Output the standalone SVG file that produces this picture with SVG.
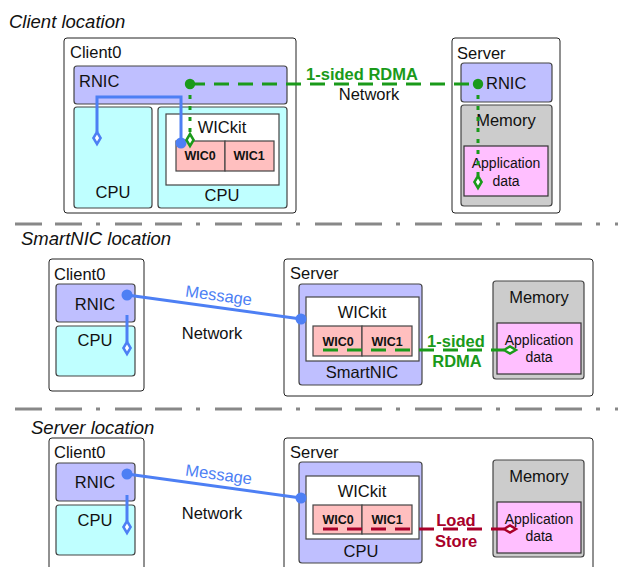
<svg xmlns="http://www.w3.org/2000/svg" width="618" height="567" viewBox="0 0 618 567">
<style>
text{font-family:"Liberation Sans",Arial,Helvetica,sans-serif;font-size:16.5px;fill:#111}
.title{font-size:18.5px;font-style:italic}
.c{text-anchor:middle}
.wic{font-size:12.5px;font-weight:bold;text-anchor:middle}
.app{font-size:14px;text-anchor:middle}
.outer{fill:#fff;stroke:#222;stroke-width:1}
.rnic{fill:#bfbfff;stroke:#444;stroke-width:1.2}
.cpu{fill:#bfffff;stroke:#444;stroke-width:1.2}
.kit{fill:#fff;stroke:#444;stroke-width:1.2}
.wicbox{fill:#ffbfbf;stroke:#444;stroke-width:1.2}
.mem{fill:#cccccc;stroke:#444;stroke-width:1.2}
.appbox{fill:#ffbfff;stroke:#333;stroke-width:1.2}
.sep{stroke:#888;stroke-width:3;stroke-dasharray:27 13 27 14 4 15;fill:none}
.blue{stroke:#4d7ff4;stroke-width:3;fill:none}
.green{stroke:#1a9a1a;stroke-width:3;fill:none;stroke-dasharray:15 9}
.gdot{stroke:#1a9a1a;stroke-width:3;fill:none;stroke-dasharray:4 7}
.red{stroke:#a8002a;stroke-width:3;fill:none;stroke-dasharray:15 9}
.gt{fill:#1a9a1a;font-weight:bold;text-anchor:middle}
.rt{fill:#a8002a;font-weight:bold;text-anchor:middle}
.bt{fill:#4d7ff4;text-anchor:middle}
</style>
<defs>
<marker id="dotB" markerUnits="userSpaceOnUse" viewBox="-6 -6 12 12" markerWidth="12" markerHeight="12" refX="0" refY="0"><circle r="5.5" fill="#4d7ff4"/></marker>
<marker id="dotG" markerUnits="userSpaceOnUse" viewBox="-6 -6 12 12" markerWidth="12" markerHeight="12" refX="0" refY="0"><circle r="5.2" fill="#1a9a1a"/></marker>
<marker id="diaB" markerUnits="userSpaceOnUse" viewBox="-2 -6 16 12" markerWidth="16" markerHeight="12" refX="0" refY="0" orient="auto" overflow="visible"><path d="M0,0 L6,-3.6 L12,0 L6,3.6 Z" fill="#fff" stroke="#4d7ff4" stroke-width="2.5"/></marker>
<marker id="diaG" markerUnits="userSpaceOnUse" viewBox="-2 -6 16 12" markerWidth="16" markerHeight="12" refX="0" refY="0" orient="auto" overflow="visible"><path d="M0,0 L6,-3.6 L12,0 L6,3.6 Z" fill="#fff" stroke="#1a9a1a" stroke-width="2.5"/></marker>
<marker id="diaR" markerUnits="userSpaceOnUse" viewBox="-2 -6 16 12" markerWidth="16" markerHeight="12" refX="0" refY="0" orient="auto" overflow="visible"><path d="M0,0 L6,-3.6 L12,0 L6,3.6 Z" fill="#fff" stroke="#a8002a" stroke-width="2.5"/></marker>
</defs>

<g id="titles">
<text class="title" x="9" y="28">Client location</text>
<text class="title" x="21" y="245">SmartNIC location</text>
<text class="title" x="31" y="434">Server location</text>
</g>
<g id="separators">
<line class="sep" x1="15" y1="224" x2="618" y2="224"/>
<line class="sep" x1="15" y1="409" x2="618" y2="409"/>
</g>

<!-- Panel 1 -->
<g id="p1-client0">
<rect class="outer" x="64" y="38" width="232" height="175" rx="3"/>
<text x="70" y="58">Client0</text>
</g>
<g id="p1-client-rnic">
<rect class="rnic" x="74" y="66" width="213" height="38" rx="3"/>
<text x="79" y="87">RNIC</text>
</g>
<g id="p1-client-cpu-left">
<rect class="cpu" x="74" y="107" width="78" height="101" rx="3"/>
<text class="c" x="113" y="198">CPU</text>
</g>
<g id="p1-client-cpu-right">
<rect class="cpu" x="158" y="107" width="129" height="101" rx="3"/>
<text class="c" x="222" y="201">CPU</text>
</g>
<g id="p1-wickit">
<rect class="kit" x="166" y="114" width="113" height="71"/>
<text class="c" x="222" y="133">WICkit</text>
</g>
<g id="p1-wic0">
<rect class="wicbox" x="176" y="141" width="49" height="30"/>
<text class="wic" x="200" y="160">WIC0</text>
</g>
<g id="p1-wic1">
<rect class="wicbox" x="225" y="141" width="49" height="30"/>
<text class="wic" x="249" y="160">WIC1</text>
</g>
<g id="p1-server">
<rect class="outer" x="452" y="38" width="108" height="175" rx="3"/>
<text x="457" y="59">Server</text>
</g>
<g id="p1-server-rnic">
<rect class="rnic" x="461" y="63" width="91" height="39" rx="3"/>
<text x="486" y="89">RNIC</text>
</g>
<g id="p1-memory">
<rect class="mem" x="461" y="105" width="91" height="101" rx="3"/>
<text class="c" x="506" y="126">Memory</text>
</g>
<g id="p1-appdata">
<rect class="appbox" x="464" y="146" width="84" height="50"/>
<text class="app" x="506" y="168">Application</text>
<text class="app" x="506" y="186">data</text>
</g>

<!-- Panel 2 -->
<g id="p2-client0">
<rect class="outer" x="49" y="259" width="95" height="132" rx="3"/>
<text x="54" y="280">Client0</text>
</g>
<g id="p2-client-rnic">
<rect class="rnic" x="56" y="284" width="79" height="38" rx="3"/>
<text class="c" x="95" y="310">RNIC</text>
</g>
<g id="p2-client-cpu">
<rect class="cpu" x="56" y="326" width="79" height="50" rx="3"/>
<text class="c" x="95" y="346">CPU</text>
</g>
<g id="p2-server">
<rect class="outer" x="284" y="259" width="309" height="137" rx="3"/>
<text x="290" y="279">Server</text>
</g>
<g id="p2-smartnic">
<rect class="rnic" x="299" y="284" width="123" height="101" rx="3"/>
<text class="c" x="362" y="378">SmartNIC</text>
</g>
<g id="p2-wickit">
<rect class="kit" x="306" y="297" width="113" height="64"/>
<text class="c" x="362" y="318">WICkit</text>
</g>
<g id="p2-wic0">
<rect class="wicbox" x="313" y="326" width="49" height="30"/>
<text class="wic" x="338" y="346">WIC0</text>
</g>
<g id="p2-wic1">
<rect class="wicbox" x="362" y="326" width="50" height="30"/>
<text class="wic" x="387" y="346">WIC1</text>
</g>
<g id="p2-memory">
<rect class="mem" x="493" y="281" width="91" height="98" rx="3"/>
<text class="c" x="539" y="303">Memory</text>
</g>
<g id="p2-appdata">
<rect class="appbox" x="497" y="323" width="84" height="51"/>
<text class="app" x="539" y="345">Application</text>
<text class="app" x="539" y="362">data</text>
</g>

<!-- Panel 3 -->
<g id="p3-client0">
<rect class="outer" x="49" y="438" width="95" height="140" rx="3"/>
<text x="54" y="458">Client0</text>
</g>
<g id="p3-client-rnic">
<rect class="rnic" x="56" y="463" width="79" height="38" rx="3"/>
<text class="c" x="95" y="488">RNIC</text>
</g>
<g id="p3-client-cpu">
<rect class="cpu" x="56" y="505" width="79" height="50" rx="3"/>
<text class="c" x="95" y="526">CPU</text>
</g>
<g id="p3-server">
<rect class="outer" x="284" y="438" width="309" height="140" rx="3"/>
<text x="290" y="458">Server</text>
</g>
<g id="p3-cpu">
<rect class="rnic" x="299" y="462" width="123" height="101" rx="3"/>
<text class="c" x="361" y="557">CPU</text>
</g>
<g id="p3-wickit">
<rect class="kit" x="306" y="476" width="113" height="63"/>
<text class="c" x="362" y="497">WICkit</text>
</g>
<g id="p3-wic0">
<rect class="wicbox" x="313" y="505" width="49" height="29"/>
<text class="wic" x="338" y="524">WIC0</text>
</g>
<g id="p3-wic1">
<rect class="wicbox" x="362" y="505" width="50" height="29"/>
<text class="wic" x="387" y="524">WIC1</text>
</g>
<g id="p3-memory">
<rect class="mem" x="493" y="460" width="91" height="97" rx="3"/>
<text class="c" x="539" y="482">Memory</text>
</g>
<g id="p3-appdata">
<rect class="appbox" x="497" y="502" width="84" height="51"/>
<text class="app" x="539" y="524">Application</text>
<text class="app" x="539" y="541">data</text>
</g>

<g id="connectors">
<path class="blue" d="M181,143 V97 H97 V132" marker-start="url(#dotB)" marker-end="url(#diaB)"/>
<path class="green" d="M190,84 H478" marker-start="url(#dotG)" marker-end="url(#dotG)"/>
<path class="gdot" d="M190,84 V134" marker-end="url(#diaG)"/>
<path class="gdot" d="M478,84 V176" marker-end="url(#diaG)"/>

<path class="blue" d="M127,295 L301,319" marker-start="url(#dotB)" marker-end="url(#dotB)"/>
<path class="blue" d="M127,315 V342" marker-end="url(#diaB)"/>
<path class="green" d="M323,350 H504" marker-end="url(#diaG)"/>

<path class="blue" d="M127,474 L301,498" marker-start="url(#dotB)" marker-end="url(#dotB)"/>
<path class="blue" d="M127,495 V521" marker-end="url(#diaB)"/>
<path class="red" d="M323,529 H504" marker-end="url(#diaR)"/>
</g>

<g id="connector-labels">
<text class="gt" x="362" y="80">1-sided RDMA</text>
<text class="c" x="369" y="100">Network</text>
<text class="bt" x="218" y="301" transform="rotate(7.8 218 301)">Message</text>
<text class="c" x="212" y="339">Network</text>
<text class="gt" x="456" y="347">1-sided</text>
<text class="gt" x="457" y="367">RDMA</text>
<text class="bt" x="218" y="480" transform="rotate(7.8 218 480)">Message</text>
<text class="c" x="212" y="519">Network</text>
<text class="rt" x="456" y="526">Load</text>
<text class="rt" x="456" y="547">Store</text>
</g>
</svg>
